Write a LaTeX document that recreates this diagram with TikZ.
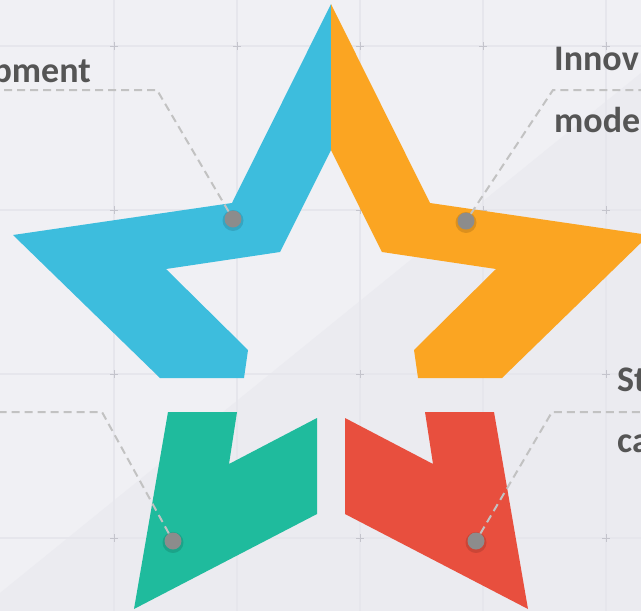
\documentclass[tikz,border=0pt]{standalone}
\usepackage{fontspec}
\setmainfont{Carlito}
\usetikzlibrary{calc}
\definecolor{bgc}{HTML}{F0F0F4}
\definecolor{bgd}{HTML}{EBEBF0}
\definecolor{gridc}{HTML}{E6E6EC}
\definecolor{markc}{HTML}{C4C4CC}
\definecolor{starblue}{HTML}{3DBDDD}
\definecolor{starorange}{HTML}{FBA522}
\definecolor{stargreen}{HTML}{1FBB9D}
\definecolor{starred}{HTML}{E84F3E}
\definecolor{dotc}{HTML}{8C8C8C}
\definecolor{dashc}{HTML}{C2C2C2}
\definecolor{txtc}{HTML}{555555}
\tikzset{
  gridline/.style={draw=gridc, line width=1.5pt},
  gridmark/.style={draw=markc, line width=1pt},
  piece/.style={draw=none},
  dotnode/.style={circle, fill=dotc, minimum size=17pt, inner sep=0pt},
  dotshadow/.style={circle, fill=black, opacity=0.12, minimum size=21pt, inner sep=0pt},
  leader/.style={draw=dashc, line width=2pt, dash pattern=on 8pt off 5pt},
  label/.style={inner sep=0pt, text=txtc, font=\fontsize{36}{43}\selectfont\bfseries},
}
\begin{document}
\begin{tikzpicture}[x=1pt,y=-1pt]
\useasboundingbox (0,0) rectangle (641,611);
\clip (0,0) rectangle (641,611);
% background
\fill[bgc] (0,0) rectangle (641,611);
\fill[bgd] (0,593) -- (641,73) -- (641,611) -- (0,611) -- cycle;
% grid
\foreach \gx in {114,237,360,483,606} {\draw[gridline] (\gx,0) -- (\gx,611);}
\foreach \gy in {46,210,374,538} {\draw[gridline] (0,\gy) -- (641,\gy);}
\foreach \gx in {114,237,360,483,606} {
  \foreach \gy in {46,210,374,538} {
    \draw[gridmark] (\gx-4,\gy) -- (\gx+4,\gy);
    \draw[gridmark] (\gx,\gy-4) -- (\gx,\gy+4);
  }
}
% star pieces
\fill[starblue] (331,4) -- (232,203) -- (13,235) -- (160,378) -- (244,378) -- (248,350) -- (166,269) -- (280,252) -- (331,150) -- cycle;
\fill[starorange] (331,4) -- (430,203) -- (649,235) -- (502,378) -- (418,378) -- (414,350) -- (496,269) -- (382,252) -- (331,150) -- cycle;
\fill[stargreen] (168,412) -- (237,412) -- (229,464) -- (317,418) -- (317,514) -- (134,609) -- cycle;
\fill[starred] (494,412) -- (425,412) -- (433,464) -- (345,418) -- (345,514) -- (528,609) -- cycle;
% dots
\node[dotshadow] at (233,220.5) {};
\node[dotshadow] at (466,222.5) {};
\node[dotshadow] at (173,542.5) {};
\node[dotshadow] at (476,542.5) {};
\node[dotnode] (d1) at (233,219) {};
\node[dotnode] (d2) at (466,221) {};
\node[dotnode] (d3) at (173,541) {};
\node[dotnode] (d4) at (476,541) {};
% leader coordinates
\coordinate (e1) at (157,90);
\coordinate (f1) at (-5,90);
\coordinate (e2) at (553,90);
\coordinate (f2) at (646,90);
\coordinate (e3) at (102,412);
\coordinate (f3) at (-5,412);
\coordinate (e4) at (552,412);
\coordinate (f4) at (646,412);
\draw[leader] (d1) -- (e1) -- (f1);
\draw[leader] (d2) -- (e2) -- (f2);
\draw[leader] (d3) -- (e3) -- (f3);
\draw[leader] (d4) -- (e4) -- (f4);
% labels
\node[label, anchor=base east] (t1) at (91,82) {pment};
\node[label, anchor=base west] (t2) at (554,70) {Innov};
\node[label, anchor=base west] (t3) at (554,132) {mode};
\node[label, anchor=base west] (t4) at (617,391) {St};
\node[label, anchor=base west] (t5) at (617,452) {ca};
\end{tikzpicture}
\end{document}
